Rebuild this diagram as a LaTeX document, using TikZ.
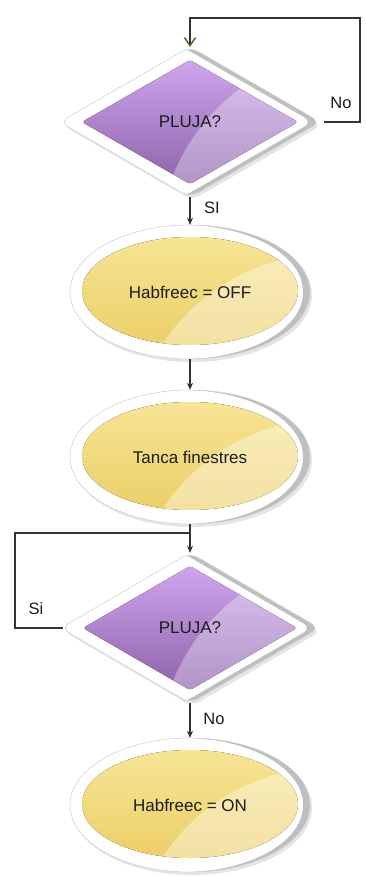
\documentclass[tikz,border=0pt]{standalone}
\usepackage{fontspec}
\setmainfont{Liberation Sans}
\usetikzlibrary{calc,arrows.meta,shadows}
\pgfdeclarelayer{bg}
\pgfsetlayers{bg,main}
\definecolor{lineC}{HTML}{333333}
\definecolor{tipG}{HTML}{4F5F22}
\definecolor{purTop}{HTML}{CFA6EE}
\definecolor{purMid}{HTML}{B893D8}
\definecolor{purBot}{HTML}{8C63A9}
\definecolor{yelTop}{HTML}{F7E595}
\definecolor{yelMid}{HTML}{F4DD83}
\definecolor{yelBot}{HTML}{EBCF68}
\definecolor{txtC}{HTML}{1C1C1C}
\tikzset{
  box/.style={inner sep=0pt, text=txtC, font=\fontsize{17}{20}\selectfont},
  lbl/.style={inner sep=0pt, text=txtC, font=\fontsize{16.5}{20}\selectfont},
  conn/.style={draw=lineC, line width=1.3pt},
  tipS/.style={-{Stealth[length=7pt,width=6pt]}},
}
\newcommand\glossydiamond[5]{% name, outer hw, outer hh, inner hw, inner hh
  \begin{scope}
    \fill[black, opacity=0.10, rounded corners=9pt]
      ($(#1.north)+(2,3)$) -- ($(#1.east)+(2,3)$) -- ($(#1.south)+(2,3)$) -- ($(#1.west)+(2,3)$) -- cycle;
  \end{scope}
  \begin{scope}
    \clip[rounded corners=9pt] (#1.north) -- (#1.east) -- (#1.south) -- (#1.west) -- cycle;
    \fill[gray!50] ($(#1.center)+(-#2,-#3)$) rectangle ($(#1.center)+(#2,#3)$);
    \fill[white, rounded corners=9pt]
      ($(#1.north)+(-8,0)$) -- ($(#1.east)+(-8,0)$) -- ($(#1.south)+(-8,0)$) -- ($(#1.west)+(-8,0)$) -- cycle;
  \end{scope}
  \draw[gray!35, line width=0.5pt, rounded corners=9pt] (#1.north) -- (#1.east) -- (#1.south) -- (#1.west) -- cycle;
  \begin{scope}
    \clip[rounded corners=3pt] ($(#1.center)+(0,-#5)$) -- ($(#1.center)+(#4,0)$) -- ($(#1.center)+(0,#5)$) -- ($(#1.center)+(-#4,0)$) -- cycle;
    \fill[top color=purTop, middle color=purMid, bottom color=purBot] ($(#1.center)+(-#4,-#5)$) rectangle ($(#1.center)+(#4,#5)$);
    \fill[white, opacity=0.32] ($(#1.center)+(172,130)$) circle (204pt);
  \end{scope}
}
\newcommand\glossyellipse[1]{% name
  \fill[black, opacity=0.10] ($(#1.center)+(2,3)$) ellipse [x radius=120pt, y radius=67pt];
  \begin{scope}
    \clip (#1.center) ellipse [x radius=120pt, y radius=67pt];
    \fill[gray!50] ($(#1.center)+(-120,-67)$) rectangle ($(#1.center)+(120,67)$);
    \fill[white] ($(#1.center)+(-7,0)$) ellipse [x radius=120pt, y radius=67pt];
  \end{scope}
  \draw[gray!35, line width=0.5pt] (#1.center) ellipse [x radius=120pt, y radius=67pt];
  \begin{scope}
    \clip ($(#1.center)+(0,-1)$) ellipse [x radius=108pt, y radius=54pt];
    \fill[top color=yelTop, middle color=yelMid, bottom color=yelBot] ($(#1.center)+(-108,-56)$) rectangle ($(#1.center)+(108,54)$);
    \fill[white, opacity=0.38] ($(#1.center)+(140,163)$) circle (201pt);
  \end{scope}
}
\begin{document}
\begin{tikzpicture}[x=1pt,y=-1pt]
  \useasboundingbox (0,0) rectangle (366,877);
  % nodes (text) on main layer
  \node[box, minimum width=260pt, minimum height=150pt] (d1) at (190,122) {PLUJA?};
  \node[box, minimum width=240pt, minimum height=134pt] (e1) at (190,292) {Habfreec = OFF};
  \node[box, minimum width=240pt, minimum height=134pt] (e2) at (190,457) {Tanca finestres};
  \node[box, minimum width=258pt, minimum height=150pt] (d2) at (190,628) {PLUJA?};
  \node[box, minimum width=240pt, minimum height=134pt] (e3) at (190,805) {Habfreec = ON};
  % labels
  \node[lbl] (lNo1) at (341,103) {No};
  \node[lbl] (lSI) at (212,208) {SI};
  \node[lbl] (lSi) at (36,609) {Si};
  \node[lbl] (lNo2) at (214,719) {No};
  % loop corner coordinates
  \coordinate (lp1) at (360,18);
  \coordinate (lp2) at (15,533);
  \begin{pgfonlayer}{bg}
    \glossydiamond{d1}{130}{75}{108}{62}
    \glossyellipse{e1}
    \glossyellipse{e2}
    \glossydiamond{d2}{129}{75}{107}{62}
    \glossyellipse{e3}
  \end{pgfonlayer}
  % connectors
  \draw[conn, -{Straight Barb[length=8pt,width=11pt,line width=1.4pt,color=tipG]}]
    ([xshift=4pt]d1.east) -| (lp1) -| (d1.north);
  \draw[conn, tipS] (d1.south) -- (e1.north);
  \draw[conn, tipS] (e1.south) -- (e2.north);
  \draw[conn, tipS] (e2.south) -- (d2.north);
  \draw[conn] ([xshift=2pt]d2.west) -| (lp2) -- (lp2 -| e2.south);
  \draw[conn, tipS] (d2.south) -- (e3.north);
\end{tikzpicture}
\end{document}
